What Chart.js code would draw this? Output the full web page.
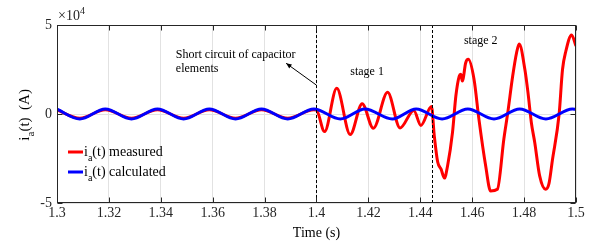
<!DOCTYPE html>
<html>
<head>
<meta charset="utf-8">
<script src="https://cdn.jsdelivr.net/npm/chart.js@4/dist/chart.umd.min.js"></script>
<style>
  html, body { margin: 0; padding: 0; background: #fff; }
  #wrap { width: 595px; height: 248px; }
</style>
</head>
<body>
<div id="wrap"><canvas id="chart" width="595" height="248"></canvas></div>
<script>
// values in units of 10^4 A
const calcTime = [1.3, 1.3088, 1.3186, 1.3287, 1.3387, 1.3488, 1.3587, 1.3688, 1.3788, 1.3889, 1.3990,
  1.4092, 1.4187, 1.4292, 1.4384, 1.4484, 1.4583, 1.4684, 1.4783, 1.4884, 1.4986, 1.5];
const calcValue = [0.27, -0.28, 0.28, -0.28, 0.28, -0.28, 0.28, -0.28, 0.28, -0.28, 0.28,
  -0.28, 0.28, -0.28, 0.28, -0.28, 0.28, -0.28, 0.28, -0.28, 0.28, 0.26];

const measTime = [1.3, 1.3088, 1.3186, 1.3287, 1.3387, 1.3488, 1.3587, 1.3688, 1.3788, 1.3889, 1.3990,
  1.4000, 1.4031, 1.4078, 1.4130, 1.4176, 1.4219, 1.4274, 1.4322, 1.4375, 1.4402, 1.4443,
  1.4454, 1.4467, 1.4480, 1.4493, 1.4505, 1.4524, 1.4537, 1.4550, 1.4556, 1.4562, 1.4575, 1.4585,
  1.4607, 1.4626, 1.4652, 1.4671, 1.4697, 1.4722, 1.4737, 1.4756, 1.4771, 1.4781,
  1.4803, 1.4815, 1.4828, 1.4841, 1.4860, 1.4883, 1.4896, 1.4909, 1.4935, 1.4948, 1.4961, 1.4983, 1.5];
const measValue = [0.23, -0.24, 0.24, -0.24, 0.24, -0.24, 0.24, -0.24, 0.24, -0.24, 0.24,
  0.22, -0.99, 1.44, -1.15, 0.58, -0.80, 1.22, -0.78, 0.20, -0.64, 0.42,
  -1.24, -2.70, -3.10, -3.60, -2.92, -1.05, 1.01, 2.13, 2.23, 1.85, 2.88, 3.07,
  1.95, -0.30, -2.92, -4.33, -4.23, -1.40, 0.07, 2.13, 3.44, 3.93,
  2.50, 1.20, -0.49, -1.60, -3.48, -4.23, -3.90, -2.60, 0.00, 2.50, 3.54, 4.44, 3.82];

const xTicks = [1.3, 1.32, 1.34, 1.36, 1.38, 1.4, 1.42, 1.44, 1.46, 1.48, 1.5];
const yTicks = [-5, 0, 5];
const stageTimes = [1.4, 1.4445];
const seriesNames = ['measured', 'calculated'];
const seriesColors = ['#ff0000', '#0000ff'];

const serif = '"Liberation Serif", "DejaVu Serif", serif';
const axisColor = '#262626';

function pairs(ts, vs) { return ts.map((t, i) => ({ x: t, y: vs[i] })); }

// "i" with subscript "a", then the rest of the label
function drawIa(ctx, x, y, size, rest) {
  ctx.font = size + 'px ' + serif;
  ctx.textBaseline = 'alphabetic';
  ctx.textAlign = 'left';
  ctx.fillText('i', x, y);
  let w = ctx.measureText('i').width;
  ctx.font = Math.round(size * 0.72) + 'px ' + serif;
  ctx.fillText('a', x + w, y + size * 0.35);
  w += ctx.measureText('a').width;
  ctx.font = size + 'px ' + serif;
  ctx.fillText(rest, x + w, y);
}

const decorations = {
  id: 'decorations',
  afterDatasetsDraw(chart) {
    const { ctx, chartArea: a, scales: { x, y } } = chart;
    ctx.save();

    // stage separators
    ctx.strokeStyle = '#000';
    ctx.lineWidth = 1;
    ctx.setLineDash([3, 2]);
    stageTimes.forEach(t => {
      const px = Math.round(x.getPixelForValue(t)) + 0.5;
      ctx.beginPath(); ctx.moveTo(px, a.top); ctx.lineTo(px, a.bottom); ctx.stroke();
    });
    ctx.setLineDash([]);

    // box and inward ticks
    ctx.strokeStyle = axisColor;
    ctx.lineWidth = 1;
    const L = Math.round(a.left) + 0.5, R = Math.round(a.right) - 0.5;
    const T = Math.round(a.top) + 0.5, B = Math.round(a.bottom) - 0.5;
    ctx.strokeRect(L, T, R - L, B - T);
    ctx.beginPath();
    xTicks.forEach(t => {
      const px = Math.round(x.getPixelForValue(t)) + 0.5;
      ctx.moveTo(px, B); ctx.lineTo(px, B - 5);
      ctx.moveTo(px, T); ctx.lineTo(px, T + 5);
    });
    yTicks.forEach(v => {
      const py = Math.round(y.getPixelForValue(v)) + 0.5;
      ctx.moveTo(L, py); ctx.lineTo(L + 5, py);
      ctx.moveTo(R, py); ctx.lineTo(R - 5, py);
    });
    ctx.stroke();

    // exponent
    ctx.fillStyle = axisColor;
    ctx.font = '14px ' + serif;
    ctx.textAlign = 'left';
    ctx.textBaseline = 'alphabetic';
    ctx.fillText('\u00d710', a.left + 1, a.top - 5);
    const ew = ctx.measureText('\u00d710').width;
    ctx.font = '10px ' + serif;
    ctx.fillText('4', a.left + 1 + ew, a.top - 11);

    // annotations
    ctx.fillStyle = '#000';
    ctx.font = '12px ' + serif;
    ctx.textBaseline = 'middle';
    ctx.textAlign = 'left';
    ctx.fillText('Short circuit of capacitor', x.getPixelForValue(1.3458), y.getPixelForValue(3.31));
    ctx.fillText('elements', x.getPixelForValue(1.3458), y.getPixelForValue(2.53));
    ctx.textAlign = 'center';
    ctx.fillText('stage 1', x.getPixelForValue(1.4195), y.getPixelForValue(2.38));
    ctx.fillText('stage 2', x.getPixelForValue(1.4633), y.getPixelForValue(4.12));

    // arrow
    const x0 = x.getPixelForValue(1.3999), y0 = y.getPixelForValue(1.63);
    const x1 = x.getPixelForValue(1.3883), y1 = y.getPixelForValue(2.85);
    ctx.strokeStyle = '#000';
    ctx.beginPath(); ctx.moveTo(x0, y0); ctx.lineTo(x1, y1); ctx.stroke();
    const ang = Math.atan2(y1 - y0, x1 - x0);
    ctx.beginPath();
    ctx.moveTo(x1, y1);
    ctx.lineTo(x1 - 6 * Math.cos(ang - 0.4), y1 - 6 * Math.sin(ang - 0.4));
    ctx.lineTo(x1 - 6 * Math.cos(ang + 0.4), y1 - 6 * Math.sin(ang + 0.4));
    ctx.closePath(); ctx.fill();

    // legend
    seriesNames.forEach((name, i) => {
      const ly = 152 + i * 20;
      ctx.strokeStyle = seriesColors[i];
      ctx.lineWidth = 3;
      ctx.beginPath(); ctx.moveTo(68, ly); ctx.lineTo(83, ly); ctx.stroke();
      ctx.fillStyle = '#000';
      drawIa(ctx, 84, ly + 4, 14, '(t) ' + name);
    });

    // axis titles
    ctx.fillStyle = '#000';
    ctx.font = '14px ' + serif;
    ctx.textAlign = 'center';
    ctx.textBaseline = 'alphabetic';
    ctx.fillText('Time (s)', (a.left + a.right) / 2, 237);

    ctx.save();
    ctx.translate(29, (a.top + a.bottom) / 2);
    ctx.rotate(-Math.PI / 2);
    ctx.font = '15px ' + serif;
    const w = ctx.measureText('ia(t)  (A)').width;
    drawIa(ctx, -w / 2, 0, 15, '(t)  (A)');
    ctx.restore();

    ctx.restore();
  }
};

const chart = new Chart(document.getElementById('chart'), {
  type: 'line',
  data: {
    datasets: [
      {
        label: 'i_a(t) measured',
        data: pairs(measTime, measValue),
        borderColor: seriesColors[0],
        borderWidth: 3,
        pointRadius: 0,
        cubicInterpolationMode: 'monotone',
        order: 1
      },
      {
        label: 'i_a(t) calculated',
        data: pairs(calcTime, calcValue),
        borderColor: seriesColors[1],
        borderWidth: 3,
        pointRadius: 0,
        cubicInterpolationMode: 'monotone',
        order: 0
      }
    ]
  },
  options: {
    responsive: false,
    animation: false,
    devicePixelRatio: 1,
    layout: { padding: { left: 0, right: 19, top: 25, bottom: 0 } },
    plugins: { legend: { display: false }, tooltip: { enabled: false } },
    scales: {
      x: {
        type: 'linear',
        min: 1.3,
        max: 1.5,
        afterBuildTicks: s => { s.ticks = xTicks.map(v => ({ value: v })); },
        afterFit: s => { s.height = 45; },
        ticks: {
          callback: v => String(+v.toFixed(2)),
          font: { family: serif, size: 14 },
          color: axisColor,
          padding: 2,
          maxRotation: 0,
          autoSkip: false
        },
        grid: { color: '#e2e2e2', drawTicks: false },
        border: { display: false }
      },
      y: {
        min: -5,
        max: 5,
        afterBuildTicks: s => { s.ticks = yTicks.map(v => ({ value: v })); },
        afterFit: s => { s.width = 57; },
        ticks: {
          callback: v => String(v),
          font: { family: serif, size: 14 },
          color: axisColor,
          padding: 5
        },
        grid: { color: '#e2e2e2', drawTicks: false },
        border: { display: false }
      }
    }
  },
  plugins: [decorations]
});
</script>
</body>
</html>
